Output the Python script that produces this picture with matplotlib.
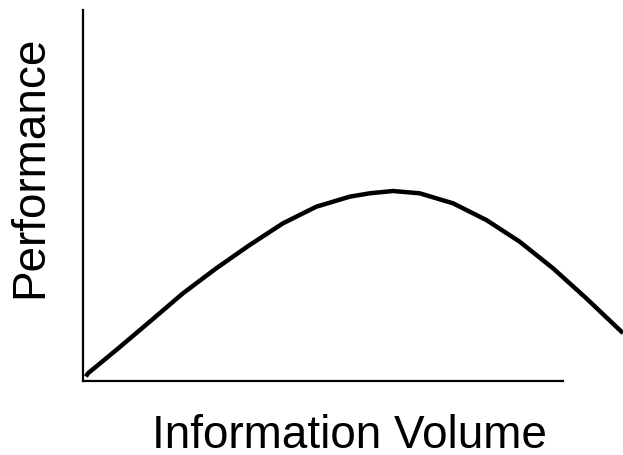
import matplotlib
matplotlib.use("Agg")
import matplotlib.pyplot as plt

plt.rcParams['font.family'] = ['Liberation Sans', 'DejaVu Sans']

# Curve points (axes fraction units)
info_volume = [0.006, 0.0104, 0.0694, 0.1390, 0.2083, 0.2777, 0.3473, 0.4167,
               0.4860, 0.5556, 0.5973, 0.6458, 0.7015, 0.7708, 0.8402, 0.9098,
               0.9792, 1.0485, 1.1181, 1.125]
performance = [0.012, 0.0208, 0.0836, 0.1598, 0.2364, 0.3038, 0.3666, 0.4251,
               0.4698, 0.4968, 0.5059, 0.5121, 0.5059, 0.4790, 0.4340, 0.3755,
               0.3038, 0.2229, 0.1375, 0.129]

xlabel = "Information Volume"
ylabel = "Performance"

fig = plt.figure(figsize=(6.23, 4.55), dpi=100)
ax = fig.add_axes([83/623, 74/455, 480/623, 371/455])
ax.plot(info_volume, performance, color='black', lw=3.2, clip_on=False,
        solid_capstyle='butt', solid_joinstyle='round')
ax.set_xlim(0, 1)
ax.set_ylim(0, 1)
ax.set_xticks([])
ax.set_yticks([])
for s in ['top', 'right']:
    ax.spines[s].set_visible(False)
for s in ['left', 'bottom']:
    ax.spines[s].set_linewidth(1.6)
    ax.spines[s].set_color('black')

fig.text(349/623, 7/455, xlabel, fontsize=33, ha='center', va='baseline')
fig.text(30/623, (455-167)/455, ylabel, fontsize=33, rotation=90,
         ha='center', va='center')

fig.savefig("out.png", dpi=100)
